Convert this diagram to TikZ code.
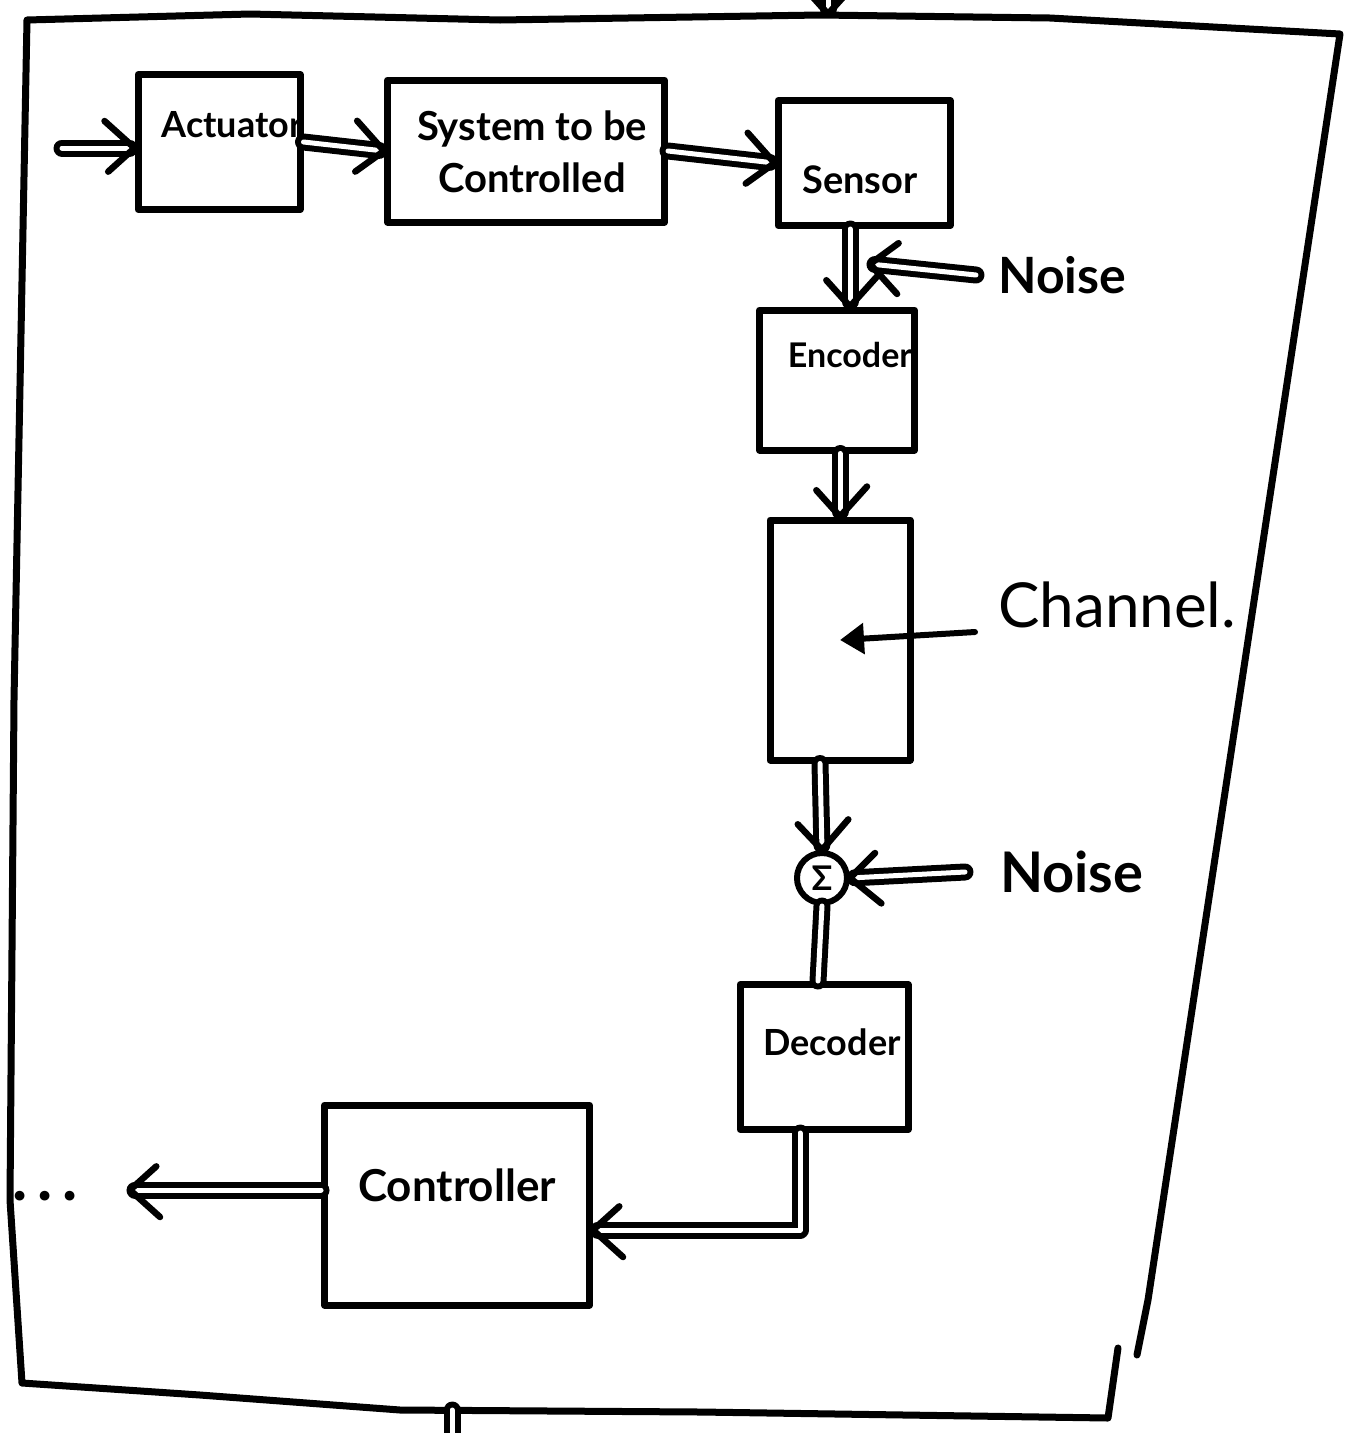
\documentclass[tikz,border=0pt]{standalone}
\usepackage{fontspec}
\setmainfont{Lato}
\usetikzlibrary{arrows.meta,calc,decorations.markings}
\begin{document}
\begin{tikzpicture}[x=1pt,y=-1pt,
  line cap=round, line join=round,
  box/.style={draw, line width=7pt, inner sep=0pt},
  dblline/.style={double, double distance=5pt, line width=6pt},
  barbtip/.style={decoration={markings, mark=at position 1 with {\draw[line width=6.5pt, line cap=round, line join=round] (-30pt,27pt) -- (0pt,0pt) -- (-30pt,-27pt);}}, decorate},
  dblarrow/.style={dblline, shorten >=5pt, postaction={barbtip}},
  txt/.style={inner sep=0pt, font=\fontsize{#1}{#1}\selectfont\bfseries},
  frame/.style={line width=7pt}]
\useasboundingbox (0,0) rectangle (1352,1433);
% outer frame
\draw[frame] (1118,1348) -- (1108,1418) -- (700,1412) -- (400,1410) -- (200,1395) -- (22,1383)
  -- (10,1200) -- (14,700) -- (27,20) -- (250,14) -- (500,20) -- (820,15) -- (1050,18) -- (1340,34)
  -- (1148,1300) -- (1137,1355);
% boxes
\node[box, minimum width=162pt, minimum height=135pt] (act) at (219,142) {};
\node[box, minimum width=277pt, minimum height=142pt] (sys) at (526,151) {};
\node[box, minimum width=172pt, minimum height=125pt] (sen) at (864,163) {};
\node[box, minimum width=155pt, minimum height=140pt] (enc) at (837,380) {};
\node[box, minimum width=140pt, minimum height=240pt] (chan) at (840,640) {};
\node[box, line width=6pt, circle, minimum size=50pt] (sum) at (822,878) {};
\node[box, minimum width=168pt, minimum height=145pt] (dec) at (824,1057) {};
\node[box, minimum width=265pt, minimum height=200pt] (ctrl) at (457,1205) {};
% texts
\node[txt=36] (tact) at (232,125) {Actuator};
\node[txt=40, align=center] (tsys) at (532,152) {System to be\\[12pt]Controlled};
\node[txt=38] (tsen) at (860,180) {Sensor};
\node[txt=34] (tenc) at (850,355) {Encoder};
\node[txt=36] (tdec) at (832,1042) {Decoder};
\node[txt=44] (tctrl) at (457,1185) {Controller};
\node[txt=34] (tsum) at (822,878) {Σ};
\node[txt=50, anchor=west] (n1) at (998,275) {Noise};
\node[txt=56, anchor=west] (n2) at (1000,872) {Noise};
\node[inner sep=0pt, font=\fontsize{62}{62}\selectfont, anchor=west] (tchan) at (998,605) {Channel.};
\node[txt=64, anchor=west] (dots) at (12,1196) {.\kern10pt.\kern10pt.};
% connectors
\coordinate (in) at (62,148);
\coordinate (n1tip) at (870,264);
\coordinate (out) at (130,1190);
\coordinate (topin) at (828,-40);
\coordinate (topend) at (828,14);
\coordinate (chsrc) at (975,632);
\coordinate (botstart) at (452,1410);
\coordinate (botout) at (452,1460);
\draw[dblarrow] (in) -- (act.west |- in);
\draw[dblarrow] (act.east) -- (sys.west);
\draw[dblarrow] (sys.east) -- (sen.west);
\draw[dblarrow] ([xshift=-14pt]sen.south) -- ([xshift=13pt]enc.north);
\draw[dblarrow] ([xshift=-22pt]n1.west) -- (n1tip);
\draw[dblarrow] ([xshift=3pt]enc.south) -- (chan.north);
\draw[line width=6pt, -{Triangle[length=24pt, width=30pt]}] (chsrc) -- (chan.center);
\draw[dblarrow] ([xshift=-20pt]chan.south) -- (sum.north);
\draw[dblarrow] ([xshift=-35pt]n2.west) -- (sum.east);
\draw[dblline] (sum.south) -- ([xshift=-6pt]dec.north);
\draw[dblarrow] ([xshift=-24pt]dec.south) |- ([yshift=-25pt]ctrl.east);
\draw[dblarrow] (ctrl.west |- out) -- (out);
\draw[dblarrow] (topin) -- (topend);
\draw[dblline] (botstart) -- (botout);
\end{tikzpicture}
\end{document}
